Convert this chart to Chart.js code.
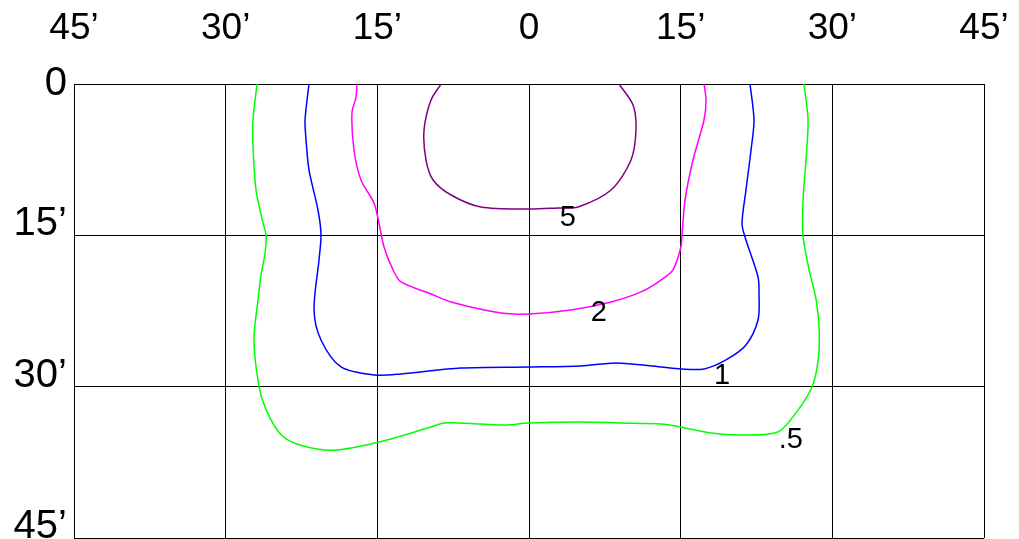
<!DOCTYPE html>
<html>
<head>
<meta charset="utf-8">
<script src="https://cdn.jsdelivr.net/npm/chart.js@4/dist/chart.umd.min.js"></script>
<style>
  html, body { margin: 0; padding: 0; background: #fff; }
  #wrap { width: 1019px; height: 539px; }
</style>
</head>
<body>
<div id="wrap"><canvas id="c" width="1019" height="539"></canvas></div>
<script>
// Axis ticks (minutes of arc)
const xTickValues = [-45, -30, -15, 0, 15, 30, 45];
const xTickLabels = ['45’', '30’', '15’', '0', '15’', '30’', '45’'];
const yTickValues = [0, 15, 30, 45];
const yTickLabels = ['0', '15’', '30’', '45’'];

// Contour levels
const levelNames = ['.5', '1', '2', '5'];

// Contour ".5" (green)
const c05X = [-26.9, -27.3, -27.3, -27.0, -26.3, -26.0, -26.1, -26.5, -26.8, -27.2, -26.7, -26.0, -24.5, -22.6, -19.3, -14.9, -9.7, -8.4, -4.75, -2.3, 0, 5.1, 9.1, 13.05, 15.0, 18.0, 21.0, 24.6, 26.4, 28.0, 28.6, 28.7, 28.4, 27.7, 27.1, 27.1, 27.4, 27.6, 27.2];
const c05Y = [0, 3.57, 6.05, 10.5, 13.8, 15.0, 16.75, 18.9, 21.4, 25.4, 30.0, 32.3, 34.8, 35.8, 36.3, 35.5, 34.0, 33.6, 33.7, 33.8, 33.6, 33.5, 33.6, 33.7, 34.0, 34.6, 34.8, 34.5, 32.6, 30.0, 27.35, 24.4, 21.4, 18.4, 15.0, 11.5, 7.5, 3.57, 0];

// Contour "1" (blue)
const c1X = [-21.76, -22.15, -22.05, -21.76, -20.87, -20.57, -20.77, -21.26, -20.57, -18.59, -15.33, -12.66, -6.73, 0, 5.14, 8.6, 13.05, 15.03, 17.31, 19.48, 21.46, 22.65, 22.75, 22.65, 21.46, 21.07, 21.46, 21.96, 22.25, 21.86];
const c1Y = [0, 3.57, 5.55, 8.52, 12.49, 14.97, 17.44, 22.4, 25.37, 28.05, 28.84, 28.74, 28.15, 28.05, 27.95, 27.65, 28.05, 28.25, 28.25, 27.35, 25.87, 23.39, 20.91, 19.13, 15.46, 13.88, 10.51, 6.54, 3.57, 0];

// Contour "2" (magenta)
const c2X = [-17.01, -17.11, -17.51, -17.31, -16.62, -15.33, -14.84, -14.34, -13.45, -12.66, -9.69, -7.71, -2.77, 0, 4.15, 8.11, 11.08, 13.05, 14.24, 15.03, 15.13, 15.43, 16.22, 17.31, 17.51, 17.31];
const c2Y = [0, 1.29, 2.87, 6.54, 9.51, 11.79, 13.78, 16.15, 18.43, 19.62, 20.81, 21.61, 22.7, 22.79, 22.4, 21.61, 20.61, 19.43, 18.43, 16.15, 14.97, 11.5, 7.53, 3.57, 1.59, 0];

// Contour "5" (purple)
const c5X = [-8.7, -9.69, -10.38, -10.19, -9.49, -7.71, -4.75, 0, 2.87, 4.85, 8.11, 10.09, 10.58, 10.29, 8.9];
const c5Y = [0, 1.59, 4.56, 7.53, 9.51, 11.0, 12.19, 12.39, 12.29, 12.19, 10.51, 7.53, 4.56, 2.08, 0];

// Contour label anchors (data coordinates)
const labelX = [25.9, 19.1, 6.9, 3.85];
const labelY = [35.3, 28.9, 22.7, 13.3];

const toPts = (xs, ys) => xs.map((x, i) => ({ x: x, y: ys[i] }));

const seriesX = [c05X, c1X, c2X, c5X];
const seriesY = [c05Y, c1Y, c2Y, c5Y];
const colors = ['#00ff00', '#0000ff', '#ff00ff', '#800080'];

const FONT = '"Liberation Sans", Arial, sans-serif';

const overlay = {
  id: 'overlay',
  afterDraw(chart) {
    const ctx = chart.ctx;
    const xs = chart.scales.x, ys = chart.scales.y;
    const top = chart.chartArea.top;
    ctx.save();
    ctx.fillStyle = '#000';
    // y tick labels
    ctx.font = '40px ' + FONT;
    ctx.textAlign = 'right';
    ctx.textBaseline = 'alphabetic';
    yTickValues.forEach((v, i) => {
      const py = Math.max(ys.getPixelForValue(v), top + 11);
      ctx.fillText(yTickLabels[i], 67, py);
    });
    // contour labels
    ctx.font = '29px ' + FONT;
    ctx.textAlign = 'center';
    ctx.textBaseline = 'middle';
    levelNames.forEach((t, i) => {
      ctx.fillText(t, xs.getPixelForValue(labelX[i]), ys.getPixelForValue(labelY[i]));
    });
    ctx.restore();
  }
};

new Chart(document.getElementById('c'), {
  type: 'scatter',
  data: {
    datasets: seriesX.map((xsArr, i) => ({
      label: levelNames[i],
      data: toPts(xsArr, seriesY[i]),
      showLine: true,
      borderColor: colors[i],
      backgroundColor: colors[i],
      borderWidth: 1.5,
      pointRadius: 0,
      pointHoverRadius: 0,
      tension: 0.3,
      fill: false
    }))
  },
  options: {
    responsive: false,
    animation: false,
    events: [],
    layout: { padding: { left: 0, top: 0, right: 35, bottom: 1 } },
    plugins: { legend: { display: false }, tooltip: { enabled: false } },
    scales: {
      x: {
        type: 'linear',
        position: 'top',
        min: -45, max: 45,
        afterBuildTicks(s) { s.ticks = xTickValues.map(v => ({ value: v })); },
        afterFit(s) { s.height = 84; s.paddingLeft = 0; s.paddingRight = 0; },
        grid: { color: '#000', lineWidth: 1, drawTicks: false },
        border: { color: '#000', width: 1 },
        ticks: {
          color: '#000',
          font: { size: 37, family: FONT },
          padding: 33,
          maxRotation: 0,
          autoSkip: false,
          callback: (v, i) => xTickLabels[i]
        }
      },
      y: {
        type: 'linear',
        reverse: true,
        min: 0, max: 45,
        afterBuildTicks(s) { s.ticks = yTickValues.map(v => ({ value: v })); },
        afterFit(s) { s.width = 74; s.paddingTop = 0; s.paddingBottom = 0; },
        grid: { color: '#000', lineWidth: 1, drawTicks: false },
        border: { color: '#000', width: 1 },
        ticks: { display: false }
      }
    }
  },
  plugins: [overlay]
});
</script>
</body>
</html>
